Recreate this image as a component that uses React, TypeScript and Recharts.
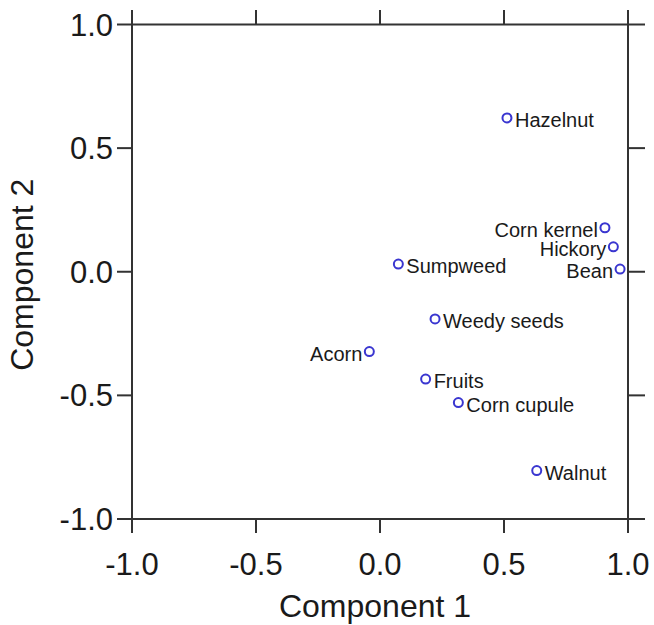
// PCA loadings scatter — Component 1 vs Component 2, ticks outward on all four sides.

import { Scatter, ScatterChart, XAxis, YAxis } from "recharts";

const names = [
  "Hazelnut",
  "Corn kernel",
  "Hickory",
  "Bean",
  "Sumpweed",
  "Weedy seeds",
  "Acorn",
  "Fruits",
  "Corn cupule",
  "Walnut",
];
const comp1 = [0.512, 0.907, 0.941, 0.968, 0.074, 0.222, -0.043, 0.184, 0.316, 0.632];
const comp2 = [0.622, 0.178, 0.101, 0.011, 0.031, -0.191, -0.323, -0.434, -0.529, -0.804];
// these get their label on the left of the marker
const leftLabelled = ["Corn kernel", "Hickory", "Bean", "Acorn"];
const axisTicks = [-1, -0.5, 0, 0.5, 1];

const FONT = "'Liberation Sans', Arial, Helvetica, sans-serif";
const INK = "#333";
const TEXT = "#1a1a1a";
const MARK = "#3a36d0";

const points = names.map((name, i) => ({ name, x: comp1[i], y: comp2[i] }));
const fmt = (v: number) => v.toFixed(1);
const blank = () => "";

function PointMark(props: any) {
  const { cx, cy, payload } = props;
  const left = leftLabelled.includes(payload.name);
  return (
    <g>
      <circle cx={cx} cy={cy} r={4.5} fill="none" stroke={MARK} strokeWidth={2} />
      <text
        x={left ? cx - 7 : cx + 8}
        y={cy + 9}
        textAnchor={left ? "end" : "start"}
        fontSize={20}
        fontFamily={FONT}
        fill={TEXT}
      >
        {payload.name}
      </text>
    </g>
  );
}

const line = { stroke: INK, strokeWidth: 2 };
const tickText = { fontSize: 31, fontFamily: FONT, fill: TEXT };

export default function App() {
  return (
    <div style={{ position: "absolute", left: 0, top: 0, background: "#fff" }}>
      <ScatterChart width={654} height={625} margin={{ top: 0, right: 0, bottom: 0, left: 0 }}>
        <XAxis
          xAxisId="b"
          type="number"
          dataKey="x"
          orientation="bottom"
          domain={[-1, 1]}
          ticks={axisTicks}
          interval={0}
          allowDataOverflow
          height={106}
          tickSize={14}
          tickMargin={20}
          tickFormatter={fmt}
          axisLine={line}
          tickLine={line}
          tick={tickText}
          label={(p: any) => (
            <text
              x={p.viewBox.x + p.viewBox.width / 2 - 5}
              y={p.viewBox.y + p.viewBox.height - 8}
              textAnchor="middle"
              fontSize={32}
              fontFamily={FONT}
              fill={TEXT}
            >
              Component 1
            </text>
          )}
        />
        <XAxis
          xAxisId="t"
          type="number"
          dataKey="x"
          orientation="top"
          domain={[-1, 1]}
          ticks={axisTicks}
          interval={0}
          allowDataOverflow
          height={24.5}
          tickSize={14.5}
          tickFormatter={blank}
          axisLine={line}
          tickLine={line}
          tick={tickText}
        />
        <YAxis
          yAxisId="l"
          type="number"
          dataKey="y"
          orientation="left"
          domain={[-1, 1]}
          ticks={axisTicks}
          interval={0}
          allowDataOverflow
          width={132}
          tickSize={15}
          tickMargin={4}
          tickFormatter={fmt}
          axisLine={line}
          tickLine={line}
          tick={tickText}
          label={(p: any) => {
            const cx = p.viewBox.x + 33;
            const cy = p.viewBox.y + p.viewBox.height / 2 + 3;
            return (
              <text
                x={cx}
                y={cy}
                transform={`rotate(-90 ${cx} ${cy})`}
                textAnchor="middle"
                fontSize={32}
                fontFamily={FONT}
                fill={TEXT}
              >
                Component 2
              </text>
            );
          }}
        />
        <YAxis
          yAxisId="r"
          type="number"
          dataKey="y"
          orientation="right"
          domain={[-1, 1]}
          ticks={axisTicks}
          interval={0}
          allowDataOverflow
          width={26}
          tickSize={17}
          tickFormatter={blank}
          axisLine={line}
          tickLine={line}
          tick={tickText}
        />
        {/* keeps the mirror axes bound to data, draws nothing */}
        <Scatter
          data={points}
          xAxisId="t"
          yAxisId="r"
          shape={() => <g />}
          isAnimationActive={false}
        />
        <Scatter
          data={points}
          xAxisId="b"
          yAxisId="l"
          shape={PointMark}
          isAnimationActive={false}
        />
      </ScatterChart>
    </div>
  );
}
